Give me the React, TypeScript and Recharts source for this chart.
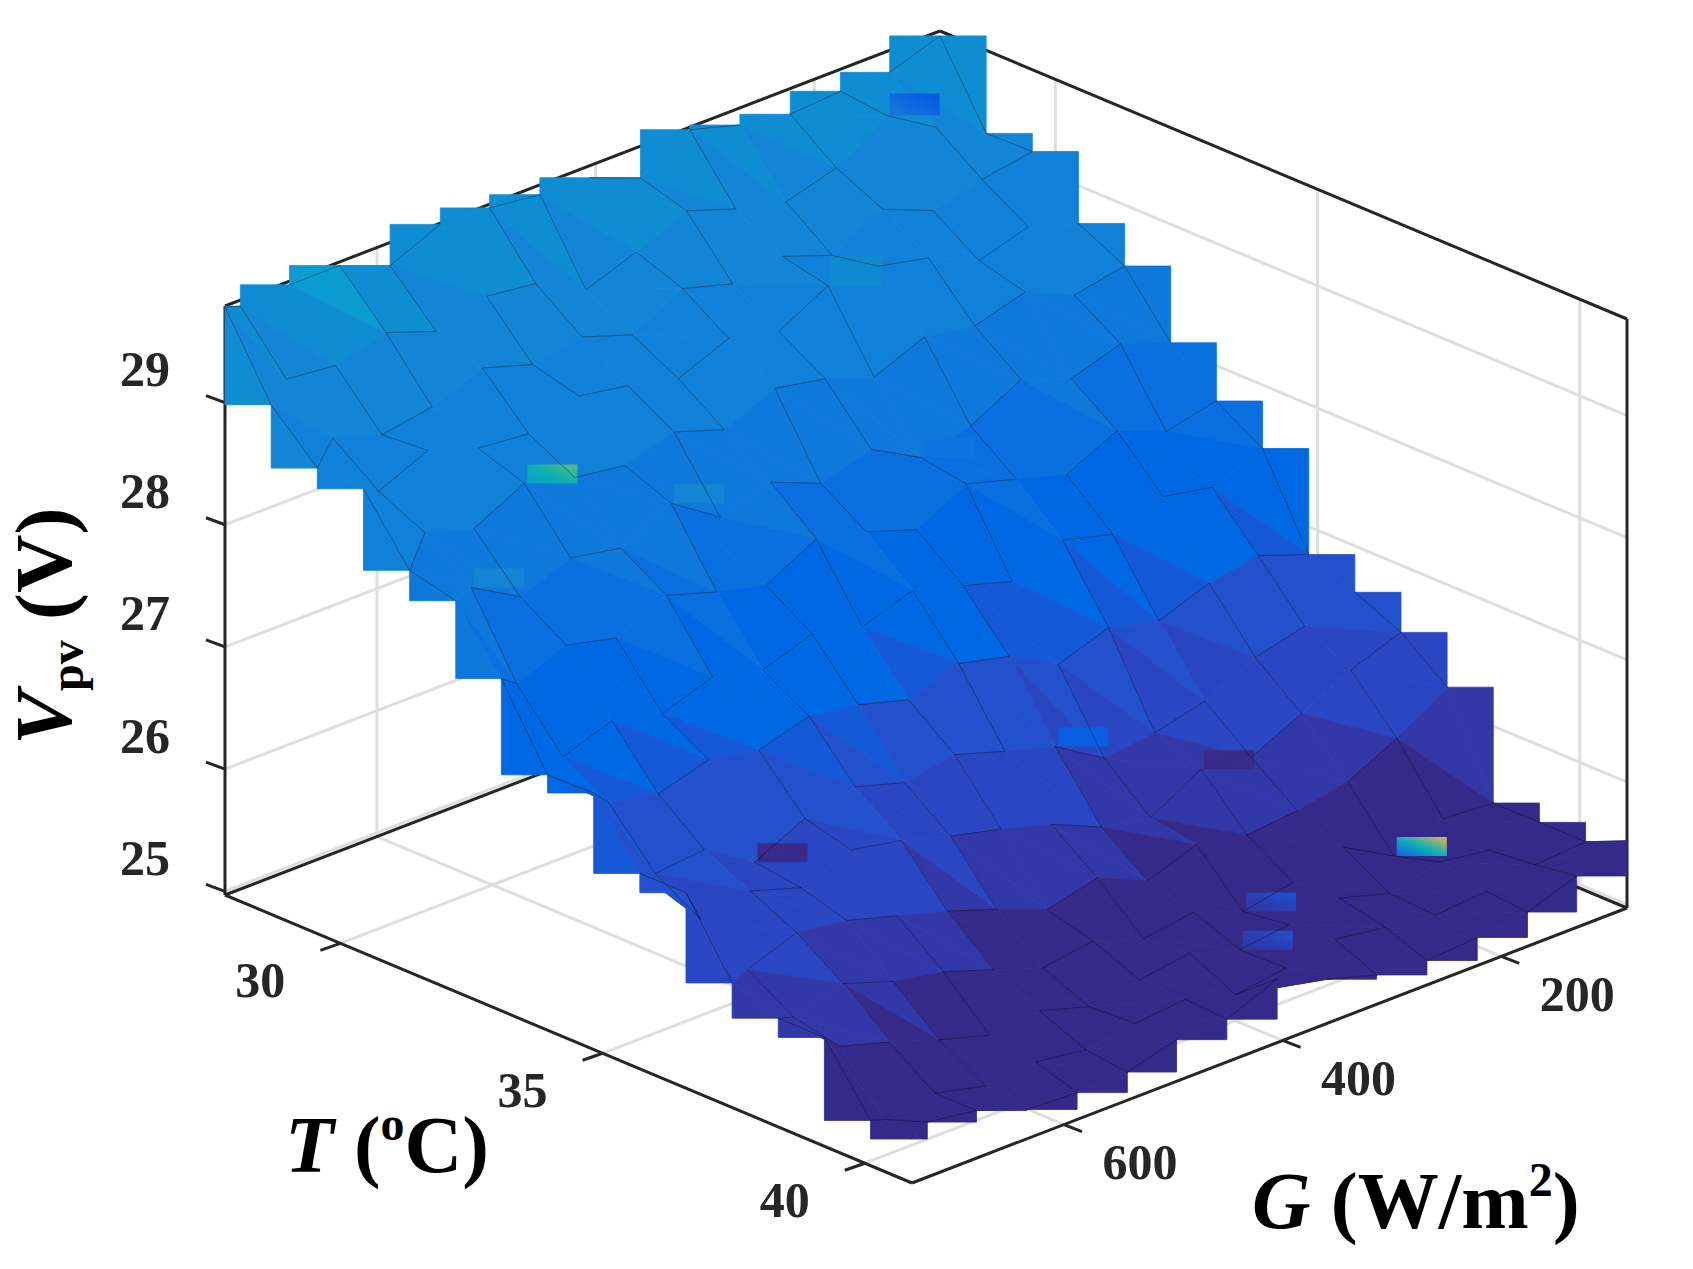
import React from 'react';
import { ScatterChart, Scatter, XAxis, YAxis } from 'recharts';

const WIDTH = 1693;
const HEIGHT = 1269;

const T_RANGE = [27.8, 40.9];
const G_RANGE = [85, 739];
const V_RANGE = [24.97, 29.79];

const tTicks = [30, 35, 40];
const gTicks = [200, 400, 600];
const vTicks = [25, 26, 27, 28, 29];

const tGrid = [27.8, 28.68, 29.56, 30.44, 31.32, 32.2, 33.07, 33.95, 34.83, 35.71, 36.59, 37.47, 38.35, 39.23, 40.11, 40.9];
const gGrid = [85, 131, 176, 222, 268, 314, 359, 405, 451, 497, 542, 588, 634, 680, 725, 739];

// Vpv, one row per temperature, one column per irradiance
const vpv = [
  [29.75, 29.61, 29.61, 29.58, 29.65, 29.77, 29.53, 29.69, 29.71, 29.76, 29.78, 29.6, 29.76, 29.76, 29.74, 29.78],
  [29.11, 29.32, 29.57, 29.3, 29.18, 29.28, 29.42, 29.24, 29.09, 29.3, 29.35, 29.22, 29.37, 29.26, 29.3, 29.14],
  [29.12, 29.05, 28.95, 29.12, 28.9, 29.05, 28.98, 29.1, 28.88, 29.02, 28.95, 29.08, 28.92, 28.85, 28.98, 28.78],
  [28.69, 28.82, 28.7, 28.88, 28.97, 28.97, 28.75, 28.85, 28.68, 28.78, 28.85, 28.7, 28.74, 28.88, 28.7, 28.77],
  [28.5, 28.42, 28.6, 28.48, 28.55, 28.38, 28.52, 28.6, 28.42, 28.56, 28.44, 28.5, 28.61, 28.4, 28.52, 28.26],
  [28.03, 28.18, 28.05, 28.2, 27.98, 27.88, 28.1, 27.98, 28.15, 28.02, 28.29, 28.08, 28.16, 28.0, 28.23, 28.17],
  [27.71, 27.62, 27.78, 27.58, 27.7, 27.82, 27.6, 27.74, 27.84, 27.62, 27.72, 27.85, 27.66, 27.76, 27.6, 27.69],
  [27.48, 27.32, 27.4, 27.25, 27.36, 27.18, 27.3, 27.42, 27.28, 27.38, 27.24, 27.34, 27.2, 27.3, 27.16, 27.06],
  [26.77, 26.92, 26.85, 26.7, 26.8, 26.66, 26.88, 26.98, 26.84, 26.96, 27.02, 26.9, 26.98, 26.86, 26.94, 27.07],
  [26.62, 26.5, 26.4, 26.2, 26.1, 26.05, 26.3, 26.42, 26.55, 26.48, 26.6, 26.5, 26.3, 26.56, 26.52, 26.57],
  [26.45, 26.3, 26.1, 25.9, 25.96, 25.72, 25.8, 25.98, 26.1, 26.2, 26.32, 26.4, 26.25, 26.38, 26.3, 26.57],
  [26.16, 25.9, 25.7, 25.62, 25.58, 25.66, 25.52, 25.7, 25.6, 25.76, 25.9, 26.02, 26.14, 26.2, 26.05, 25.99],
  [25.37, 25.4, 25.25, 25.48, 25.35, 25.27, 25.42, 25.36, 25.5, 25.44, 25.58, 25.72, 25.8, 25.94, 25.82, 25.86],
  [25.37, 25.3, 25.36, 25.26, 25.38, 25.32, 25.27, 25.4, 25.34, 25.28, 25.4, 25.36, 25.48, 25.62, 25.74, 25.86],
  [25.37, 25.34, 25.28, 25.24, 25.3, 25.36, 25.28, 25.22, 25.34, 25.3, 25.24, 25.3, 25.26, 25.36, 25.3, 25.34],
  [25.52, 25.39, 25.25, 25.2, 25.17, 25.21, 25.33, 25.49, 25.32, 25.31, 25.2, 25.19, 25.21, 25.36, 25.42, 25.33],
];

// colour bands: a facet takes the first band whose upper value is above its mean
const bandTops = [25.72, 26.05, 26.45, 26.8, 27.05, 27.6, 28.0, 28.5, 29.0, 29.45, 29.62];
const bandColors = ['#35298a', '#3338a8', '#2b46c2', '#2350cc', '#1558d8', '#0068e2', '#0a70df', '#0f78db', '#1180d8', '#1285d6', '#0f8dd3', '#0a9bd0'];

// odd tiles sitting on the surface: node index, then gradient colours
const strayNodes = [[4, 12], [12, 2], [9, 12], [1, 2], [9, 6], [10, 4], [12, 5], [13, 6], [5, 14], [5, 10], [3, 5], [5, 5]];
const strayFrom = ['#04a2c8', '#0a5fe0', '#33288a', '#1a78da', '#0a5fe0', '#35298a', '#30349f', '#30349f', '#1584d4', '#1584d4', '#0f8ad0', '#0d74e0'];
const strayMid = ['#10b0b0', '#12b0b8', '#3a2c88', '#0c68e0', '#0a5fe0', '#3a2c88', '#2b3fb4', '#2b3fb4', '#1584d4', '#1584d4', '#0f8ad0', '#0d74e0'];
const strayTo = ['#5cba80', '#e8b34a', '#33288a', '#0058e0', '#0a5fe0', '#35298a', '#1a52d8', '#2350d0', '#1584d4', '#1584d4', '#0f8ad0', '#0d74e0'];

const project = (t: number, g: number, v: number) => {
  const tf = (t - T_RANGE[0]) / (T_RANGE[1] - T_RANGE[0]);
  const gf = (g - G_RANGE[0]) / (G_RANGE[1] - G_RANGE[0]);
  return {
    x: 940 + 687 * tf - 715 * gf,
    y: 620 + 288 * tf + 275 * gf - 122.2 * (v - V_RANGE[0]),
  };
};

const colorOf = (v: number) => {
  const k = bandTops.findIndex(top => v < top);
  return k < 0 ? bandColors[bandColors.length - 1] : bandColors[k];
};

type Pt = { x: number; y: number };
type Poly = { pts: Pt[]; fill: string };

const node = (i: number, j: number) => project(tGrid[i], gGrid[j], vpv[i][j]);
const meanOf = (...vals: number[]) => vals.reduce((a, b) => a + b, 0) / vals.length;

// stepped rim of the surface, one corner triangle per boundary segment
const rimPolys: Poly[] = [];
const N = tGrid.length - 1;
const M = gGrid.length - 1;
for (let j = 0; j < M; j++) {
  const a = node(0, j), b = node(0, j + 1);
  rimPolys.push({ pts: [a, { x: b.x, y: a.y }, b], fill: colorOf(meanOf(vpv[0][j], vpv[0][j + 1], vpv[1][j])) });
}
for (let i = 0; i < N; i++) {
  const a = node(i, 0), b = node(i + 1, 0);
  rimPolys.push({ pts: [a, { x: b.x, y: a.y }, b], fill: colorOf(meanOf(vpv[i][0], vpv[i + 1][0], vpv[i][1])) });
  const c = node(i, M), d = node(i + 1, M);
  rimPolys.push({ pts: [c, { x: c.x, y: d.y }, d], fill: colorOf(meanOf(vpv[i][M], vpv[i + 1][M], vpv[i][M - 1])) });
}
for (let j = 0; j < M; j++) {
  const a = node(N, j), b = node(N, j + 1);
  rimPolys.push({ pts: [a, { x: a.x, y: b.y }, b], fill: colorOf(meanOf(vpv[N][j], vpv[N][j + 1], vpv[N - 1][j])) });
}

// two facets per cell, drawn far to near
const facetPolys: Poly[] = [];
for (let i = 0; i < N; i++) {
  for (let j = 0; j < M; j++) {
    const p00 = node(i, j), p10 = node(i + 1, j), p01 = node(i, j + 1), p11 = node(i + 1, j + 1);
    const v00 = vpv[i][j], v10 = vpv[i + 1][j], v01 = vpv[i][j + 1], v11 = vpv[i + 1][j + 1];
    facetPolys.push({ pts: [p00, p10, p01], fill: colorOf(meanOf(v00, v10, v01)) });
    facetPolys.push({ pts: [p10, p11, p01], fill: colorOf(meanOf(v10, v11, v01)) });
  }
}

// mesh: only part of it shows through in the source figure
const meshSegs: Pt[] = [];
for (let i = 0; i <= N; i++) {
  for (let j = 0; j <= M; j++) {
    if (i < N && (i + 2 * j) % 3 !== 2) meshSegs.push(node(i, j), node(i + 1, j));
    if (j < M && (i + j) % 2 === 0) meshSegs.push(node(i, j), node(i, j + 1));
  }
}

const TMIN = T_RANGE[0], TMAX = T_RANGE[1], GMIN = G_RANGE[0], GMAX = G_RANGE[1], VMIN = V_RANGE[0], VMAX = V_RANGE[1];

const gridSegs: Pt[] = [];
tTicks.forEach(t => {
  gridSegs.push(project(t, GMAX, VMIN), project(t, GMIN, VMIN), project(t, GMIN, VMIN), project(t, GMIN, VMAX));
});
gTicks.forEach(g => {
  gridSegs.push(project(TMAX, g, VMIN), project(TMIN, g, VMIN), project(TMIN, g, VMIN), project(TMIN, g, VMAX));
});
vTicks.forEach(v => {
  gridSegs.push(project(TMIN, GMAX, v), project(TMIN, GMIN, v), project(TMIN, GMIN, v), project(TMAX, GMIN, v));
});

const offset = (p: Pt, dx: number, dy: number) => ({ x: p.x + dx, y: p.y + dy });

const boxSegs: Pt[] = [
  project(TMIN, GMAX, VMIN), project(TMIN, GMAX, VMAX),
  project(TMIN, GMAX, VMAX), project(TMIN, GMIN, VMAX),
  project(TMIN, GMIN, VMAX), project(TMAX, GMIN, VMAX),
  project(TMAX, GMIN, VMAX), project(TMAX, GMIN, VMIN),
  project(TMIN, GMAX, VMIN), project(TMIN, GMIN, VMIN),
  project(TMIN, GMIN, VMIN), project(TMAX, GMIN, VMIN),
];
const frontSegs: Pt[] = [
  project(TMIN, GMAX, VMIN), project(TMAX, GMAX, VMIN),
  project(TMAX, GMAX, VMIN), project(TMAX, GMIN, VMIN),
];
vTicks.forEach(v => {
  const p = project(TMIN, GMAX, v);
  frontSegs.push(p, offset(p, -19, -7));
});
tTicks.forEach(t => {
  const p = project(t, GMAX, VMIN);
  frontSegs.push(p, offset(p, -20, 7));
});
gTicks.forEach(g => {
  const p = project(TMAX, g, VMIN);
  frontSegs.push(p, offset(p, 18, 7));
});

const tickLabels = [
  ...vTicks.map(v => ({ ...offset(project(TMIN, GMAX, v), -80, -33), text: String(v) })),
  ...tTicks.map(t => ({ ...offset(project(t, GMAX, VMIN), -80, 37), text: String(t) })),
  ...gTicks.map(g => ({ ...offset(project(TMAX, g, VMIN), 76, 38), text: String(g) })),
];

const strayPolys = strayNodes.map(([i, j], k) => {
  const p = offset(node(i, j), 3, 0);
  const h = k === 10 ? 30 : k === 3 ? 22 : 19;
  return {
    pts: [p, offset(p, 50, 0), offset(p, 50, -h), offset(p, 0, -h)],
    fill: `url(#stray${k})`,
  };
});

const flat = (polys: Poly[]) => polys.flatMap(p => p.pts);

const noMark = () => <g />;

const drawPolys = (polys: Poly[], defs?: React.ReactNode) => (props: any) => {
  let n = 0;
  return (
    <g>
      {defs}
      {polys.map((poly, k) => {
        const pts = props.points.slice(n, n + poly.pts.length);
        n += poly.pts.length;
        const stroked = !poly.fill.startsWith('url');
        return (
          <polygon
            key={k}
            points={pts.map((q: Pt) => `${q.x},${q.y}`).join(' ')}
            fill={poly.fill}
            stroke={stroked ? poly.fill : 'none'}
            strokeWidth={stroked ? 0.8 : 0}
          />
        );
      })}
    </g>
  );
};

const drawSegments = (stroke: string, width: number, opacity = 1) => (props: any) => {
  let d = '';
  for (let k = 0; k + 1 < props.points.length; k += 2) {
    const a = props.points[k], b = props.points[k + 1];
    d += `M${a.x} ${a.y}L${b.x} ${b.y}`;
  }
  return <path d={d} fill="none" stroke={stroke} strokeWidth={width} strokeOpacity={opacity} />;
};

const SERIF = '"Liberation Serif", "Times New Roman", serif';

const TickText = (p: any) => (
  <text x={p.cx} y={p.cy} dy="0.33em" textAnchor="middle" fontFamily={SERIF} fontWeight="bold" fontSize={50} fill="#262626">
    {p.payload.text}
  </text>
);

const TempTitle = (p: any) => (
  <text x={p.cx} y={p.cy} fontFamily={SERIF} fontWeight="bold" fontSize={80} fill="#000">
    <tspan fontStyle="italic">T</tspan>
    <tspan> (</tspan>
    <tspan fontSize={48} dy={-32}>o</tspan>
    <tspan dy={32}>C)</tspan>
  </text>
);

const IrrTitle = (p: any) => (
  <text x={p.cx} y={p.cy} fontFamily={SERIF} fontWeight="bold" fontSize={81} fill="#000">
    <tspan fontStyle="italic">G</tspan>
    <tspan> (W/m</tspan>
    <tspan fontSize={48} dy={-32}>2</tspan>
    <tspan dy={32}>)</tspan>
  </text>
);

const VoltTitle = (p: any) => (
  <text x={p.cx} y={p.cy} transform={`rotate(-90 ${p.cx} ${p.cy})`} fontFamily={SERIF} fontWeight="bold" fontSize={81} fill="#000">
    <tspan fontStyle="italic">V</tspan>
    <tspan fontSize={48} dy={12}>pv</tspan>
    <tspan dy={-12}> (V)</tspan>
  </text>
);

const strayDefs = (
  <defs>
    {strayFrom.map((c, k) => (
      <linearGradient key={k} id={`stray${k}`} x1="0" y1="1" x2="1" y2="0">
        <stop offset="0%" stopColor={c} />
        <stop offset="50%" stopColor={strayMid[k]} />
        <stop offset="100%" stopColor={strayTo[k]} />
      </linearGradient>
    ))}
  </defs>
);

export default function App() {
  const layer = (data: Pt[], line: any) => (
    <Scatter data={data} line={line} shape={noMark} isAnimationActive={false} />
  );
  return (
    <div style={{ position: 'absolute', left: 0, top: 0, width: WIDTH, height: HEIGHT, background: '#fff' }}>
      <ScatterChart width={WIDTH} height={HEIGHT} margin={{ top: 0, right: 0, bottom: 0, left: 0 }}>
        <XAxis type="number" dataKey="x" domain={[0, WIDTH]} hide allowDataOverflow />
        <YAxis type="number" dataKey="y" domain={[0, HEIGHT]} reversed hide allowDataOverflow width={0} />
        {layer(gridSegs, drawSegments('#dedede', 3))}
        {layer(boxSegs, drawSegments('#262626', 3))}
        {layer(frontSegs, drawSegments('#262626', 3))}
        {layer(flat(rimPolys), drawPolys(rimPolys))}
        {layer(flat(facetPolys), drawPolys(facetPolys))}
        {layer(flat(strayPolys), drawPolys(strayPolys, strayDefs))}
        {layer(meshSegs, drawSegments('#000', 0.7, 0.5))}
        <Scatter data={tickLabels} shape={TickText} isAnimationActive={false} />
        <Scatter data={[{ x: 285, y: 1172 }]} shape={TempTitle} isAnimationActive={false} />
        <Scatter data={[{ x: 1252, y: 1228 }]} shape={IrrTitle} isAnimationActive={false} />
        <Scatter data={[{ x: 71, y: 745 }]} shape={VoltTitle} isAnimationActive={false} />
      </ScatterChart>
    </div>
  );
}
